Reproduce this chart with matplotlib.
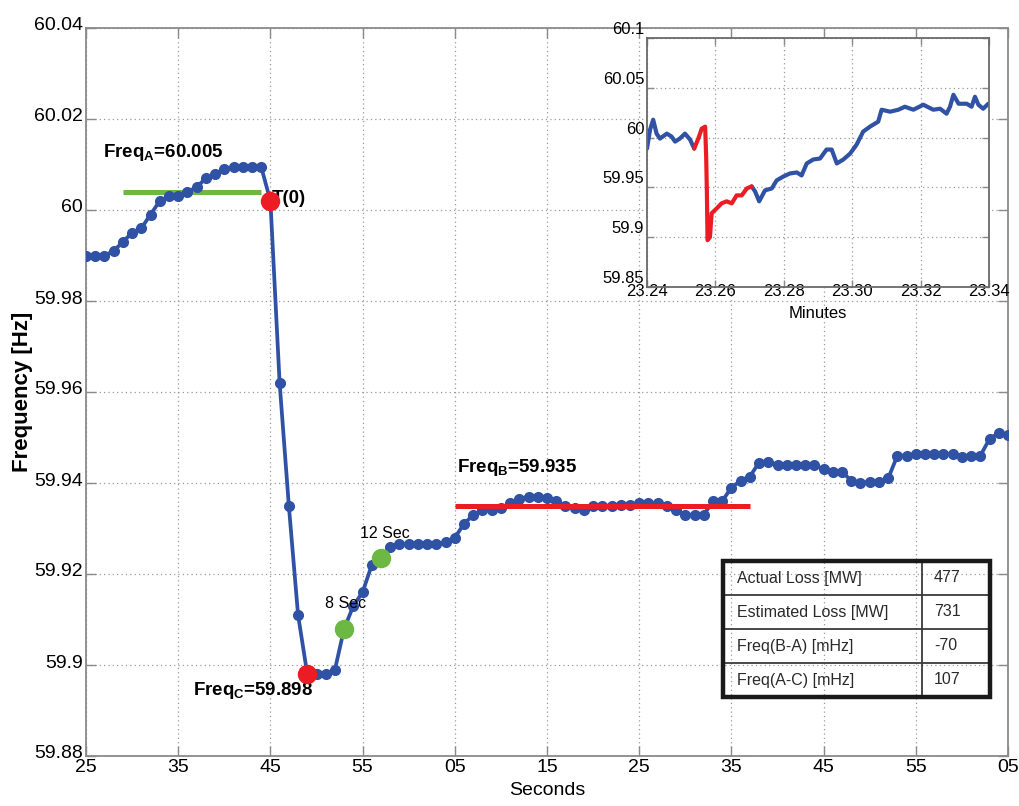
import numpy as np
import matplotlib
matplotlib.use('Agg')
import matplotlib.pyplot as plt
from matplotlib.patches import Rectangle
from matplotlib.lines import Line2D
from matplotlib.ticker import FixedLocator, FuncFormatter
from matplotlib.transforms import ScaledTranslation

ARIAL = ['Liberation Sans', 'DejaVu Sans']
plt.rcParams['font.family'] = ARIAL
plt.rcParams['axes.unicode_minus'] = False

BLUE = '#3052a5'
RED = '#ec1c24'
GREEN = '#6cb843'
GRAY = '#8a8a8a'

# --- main trace: one sample per second, 25 s .. 125 s ---
seconds = np.arange(25, 126)
freq = [59.990, 59.990, 59.990, 59.991, 59.993, 59.995, 59.996, 59.999, 60.002, 60.003,
        60.003, 60.004, 60.005, 60.007, 60.008, 60.009, 60.0095, 60.0095, 60.0095, 60.0095,
        60.002, 59.962, 59.935, 59.911, 59.898, 59.898, 59.898, 59.899, 59.908, 59.913,
        59.916, 59.922, 59.9236, 59.926, 59.9266, 59.9266, 59.9266, 59.9266, 59.9266, 59.927,
        59.928, 59.931, 59.933, 59.934, 59.934, 59.9345, 59.9355, 59.9365, 59.937, 59.937,
        59.9366, 59.936, 59.935, 59.9345, 59.934, 59.935, 59.935, 59.935, 59.9352, 59.9352,
        59.9355, 59.9355, 59.9355, 59.935, 59.934, 59.933, 59.933, 59.933, 59.936, 59.936,
        59.939, 59.9405, 59.9414, 59.9445, 59.9447, 59.944, 59.944, 59.944, 59.944, 59.944,
        59.943, 59.9425, 59.9425, 59.9405, 59.940, 59.9403, 59.9403, 59.941, 59.946, 59.946,
        59.9464, 59.9464, 59.9464, 59.9464, 59.9464, 59.9457, 59.946, 59.946, 59.9497, 59.951,
        59.9505]

xtick_pos = np.arange(25, 126, 10)
xtick_labels = ['25', '35', '45', '55', '05', '15', '25', '35', '45', '55', '05']
ytick_pos = [59.88, 59.90, 59.92, 59.94, 59.96, 59.98, 60.00, 60.02, 60.04]

freq_a_level, freq_a_span = 60.004, (29, 44)
freq_b_level, freq_b_span = 59.935, (65, 97)
t0_sec, freq_c_sec = 45, 49
sec8, sec12 = 53, 57

# --- inset: ten minutes around the event ---
minutes = [0.0, 0.09, 0.18, 0.28, 0.38, 0.58, 0.72, 0.82, 0.96, 1.11, 1.26, 1.38,
           1.50, 1.60, 1.70, 1.73, 1.75, 1.77, 1.84, 1.89, 2.04, 2.18, 2.33, 2.48, 2.62,
           2.77, 2.92, 3.06,
           3.16, 3.28, 3.45, 3.65, 3.79, 3.99, 4.18, 4.38, 4.52, 4.67, 4.86, 5.06, 5.25,
           5.40, 5.55, 5.74, 5.94, 6.13, 6.32, 6.52, 6.76, 6.86, 7.11, 7.35, 7.54, 7.79,
           8.08, 8.37, 8.57, 8.76, 8.86, 8.96, 9.11, 9.35, 9.49, 9.59, 9.69, 9.83, 9.98]
inset_freq = [59.989, 60.008, 60.018, 60.004, 59.999, 60.004, 60.001, 59.996, 59.999, 60.004,
              59.998, 59.989,
              59.999, 60.009, 60.011, 59.981, 59.947, 59.897, 59.900, 59.924, 59.929, 59.934,
              59.936, 59.934, 59.942, 59.942, 59.949, 59.951,
              59.946, 59.936, 59.947, 59.949, 59.957, 59.961, 59.964, 59.965, 59.962, 59.974,
              59.978, 59.979, 59.988, 59.988, 59.974, 59.978, 59.984, 59.993, 60.006, 60.011,
              60.016, 60.028, 60.026, 60.028, 60.031, 60.028, 60.033, 60.028, 60.029, 60.024,
              60.031, 60.043, 60.034, 60.034, 60.031, 60.041, 60.033, 60.029, 60.034]
red_first, red_last = 11, 27
inset_xticks = [0, 2, 4, 6, 8, 10]
inset_xlabels = ['23:24', '23:26', '23:28', '23:30', '23:32', '23:34']
inset_yticks = [59.85, 59.90, 59.95, 60.00, 60.05, 60.10]

table_labels = ['Actual Loss [MW]', 'Estimated Loss [MW]', 'Freq(B-A) [mHz]', 'Freq(A-C) [mHz]']
table_values = ['477', '731', '-70', '107']

W, H = 1019, 806


def fx(px):
    return px / W


def fy(py):
    return 1 - py / H


def shift_labels(labels, dy_px, fig):
    off = ScaledTranslation(0, dy_px / fig.dpi, fig.dpi_scale_trans)
    for lb in labels:
        lb.set_transform(lb.get_transform() + off)


def g_fmt(v, pos):
    return f'{round(v, 3):g}'


fig = plt.figure(figsize=(W / 100, H / 100), dpi=100)

# ---------------- main axes ----------------
ax = fig.add_axes([fx(86), fy(756), (1008 - 86) / W, (756 - 28) / H])
ax.plot(seconds, freq, '-o', color=BLUE, lw=2.7, ms=7, mec=BLUE, mfc=BLUE, zorder=3)
ax.hlines(freq_a_level, *freq_a_span, color=GREEN, lw=3.6, zorder=2.5)
ax.hlines(freq_b_level, *freq_b_span, color=RED, lw=3.6, zorder=4)

f = dict(zip(seconds, freq))
ax.plot([t0_sec, freq_c_sec], [f[t0_sec], f[freq_c_sec]], 'o', color=RED, ms=13, ls='none', zorder=5)
ax.plot([sec8, sec12], [f[sec8], f[sec12]], 'o', color=GREEN, ms=13, ls='none', zorder=5)

bold = dict(fontsize=13.5, fontweight='bold', va='baseline', ha='left')
ax.text(26.85, 60.0117, r'Freq$_\mathregular{A}$=60.005', **bold)
ax.text(45.1, 60.0015, 'T(0)', **bold)
ax.text(36.6, 59.8934, r'Freq$_\mathregular{C}$=59.898', **bold)
ax.text(65.2, 59.9424, r'Freq$_\mathregular{B}$=59.935', **bold)
ax.text(50.9, 59.9125, '8 Sec', fontsize=11.5, va='baseline', ha='left')
ax.text(54.7, 59.928, '12 Sec', fontsize=11.5, va='baseline', ha='left')

ax.set_xlim(25, 125)
ax.set_ylim(59.88, 60.04)
ax.xaxis.set_major_locator(FixedLocator(xtick_pos))
ax.set_xticklabels(xtick_labels)
ax.yaxis.set_major_locator(FixedLocator(ytick_pos))
ax.yaxis.set_major_formatter(FuncFormatter(g_fmt))
ax.grid(True, linestyle=(0, (1, 2.5)), color='#9a9a9a', lw=0.9)
ax.tick_params(direction='in', length=7, width=1, color=GRAY, top=True, right=True,
               labelsize=14, pad=2)
for s in ax.spines.values():
    s.set_color(GRAY)
    s.set_linewidth(1.3)
ax.set_xlabel('Seconds', fontsize=14)
ax.xaxis.set_label_coords(0.5, -0.036)
ax.set_ylabel('Frequency [Hz]', fontsize=16, fontweight='bold')
ax.yaxis.set_label_coords(-0.057, 0.5)
shift_labels(ax.get_yticklabels(), 4, fig)

# ---------------- table ----------------
tx0, tx1, tcol = 723, 990, 922
ty0, ty1 = 561, 697
rows = len(table_labels)
rh = (ty1 - ty0) / rows
for i in range(1, rows):
    y = ty0 + i * rh
    fig.add_artist(Line2D([fx(tx0), fx(tx1)], [fy(y), fy(y)], color='#3a3a3a', lw=1.3, zorder=6))
fig.add_artist(Line2D([fx(tcol), fx(tcol)], [fy(ty0), fy(ty1)], color='#3a3a3a', lw=1.3, zorder=6))
fig.add_artist(Rectangle((fx(tx0), fy(ty1)), fx(tx1) - fx(tx0), fy(ty0) - fy(ty1),
                         fill=False, ec='#1a1a1a', lw=3.2, zorder=7))
for i, (lab, val) in enumerate(zip(table_labels, table_values)):
    yc = fy(ty0 + (i + 0.5) * rh)
    fig.text(fx(737), yc, lab, fontsize=11.5, color='#2a2a2a', va='center', ha='left', zorder=8)
    fig.text(fx(934), yc, val, fontsize=11.5, color='#2a2a2a', va='center', ha='left', zorder=8)

# ---------------- inset ----------------
ins = fig.add_axes([fx(647), fy(287), (989 - 647) / W, (287 - 38) / H])
ins.set_facecolor('white')
ins.plot(minutes[:red_first + 1], inset_freq[:red_first + 1], color=BLUE, lw=3, solid_capstyle='round')
ins.plot(minutes[red_last:], inset_freq[red_last:], color=BLUE, lw=3, solid_capstyle='round')
ins.plot(minutes[red_first:red_last + 1], inset_freq[red_first:red_last + 1], color=RED, lw=3,
         solid_capstyle='round')
ins.set_xlim(0, 10)
ins.set_ylim(59.85, 60.1)
ins.xaxis.set_major_locator(FixedLocator(inset_xticks))
ins.set_xticklabels(inset_xlabels)
ins.yaxis.set_major_locator(FixedLocator(inset_yticks))
ins.yaxis.set_major_formatter(FuncFormatter(g_fmt))
ins.grid(True, linestyle=(0, (1, 2.5)), color='#9a9a9a', lw=0.9)
ins.tick_params(direction='in', length=5, width=1, color=GRAY, top=True, right=True,
                labelsize=12, pad=2)
for s in ins.spines.values():
    s.set_color('#6a6a6a')
    s.set_linewidth(1.3)
ins.set_xlabel('Minutes', fontsize=12)
ins.xaxis.set_label_coords(0.5, -0.075)
shift_labels(ins.get_yticklabels(), 10, fig)
shift_labels(ins.get_xticklabels(), 6, fig)

fig.savefig('out.png', dpi=100)
